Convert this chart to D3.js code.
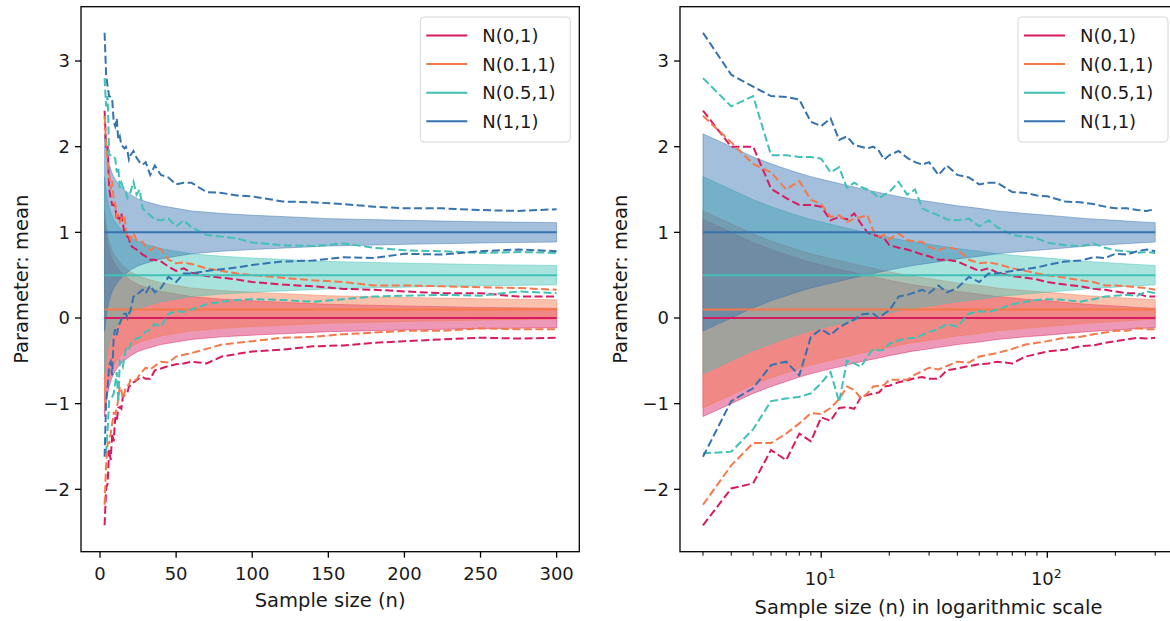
<!DOCTYPE html>
<html>
<head>
<meta charset="utf-8">
<script src="https://cdn.jsdelivr.net/npm/d3@7"></script>
<style>
  body { margin: 0; background: #fff; }
  svg { display: block; }
  text { font-family: "DejaVu Sans", sans-serif; fill: #1a1a1a; }
</style>
</head>
<body>
<svg id="chart" width="1170" height="621"></svg>
<script>
// sample sizes where the dashed bounds were read
const sampleSizes = [3,4,5,6,7,8,9,10,11,12,13,14,15,16,17,18,19,20,22,24,26,28,30,33,36,40,45,50,55,60,70,80,90,100,120,140,160,180,200,225,250,275,300];

const seriesNames = ["N(0,1)", "N(0.1,1)", "N(0.5,1)", "N(1,1)"];
const seriesMeans = [0, 0.1, 0.5, 1];
const seriesColors = ["#d81b60", "#f5784a", "#40c0b6", "#3572b0"];

// dashed bounds, one pair per distribution
const upperN0 = [2.42,2.00,2.00,1.51,1.40,1.32,1.32,1.30,1.14,1.18,1.15,1.22,1.10,1.00,0.97,0.95,0.93,0.85,0.82,0.80,0.77,0.74,0.72,0.68,0.68,0.66,0.60,0.55,0.58,0.53,0.49,0.47,0.45,0.42,0.39,0.37,0.34,0.33,0.31,0.29,0.29,0.25,0.25];
const lowerN0 = [-2.42,-1.99,-1.93,-1.54,-1.66,-1.35,-1.44,-1.16,-1.20,-1.05,-1.04,-1.06,-0.92,-0.90,-0.88,-0.87,-0.80,-0.79,-0.75,-0.73,-0.70,-0.69,-0.71,-0.71,-0.61,-0.59,-0.56,-0.54,-0.53,-0.51,-0.53,-0.45,-0.42,-0.39,-0.37,-0.33,-0.32,-0.29,-0.27,-0.25,-0.23,-0.24,-0.23];
const upperN01 = [2.36,2.05,1.80,1.70,1.50,1.60,1.38,1.33,1.18,1.20,1.12,1.16,1.18,1.20,1.02,0.95,0.97,0.92,0.99,0.91,0.89,0.89,0.83,0.79,0.83,0.80,0.68,0.64,0.65,0.63,0.58,0.55,0.52,0.50,0.47,0.44,0.42,0.38,0.38,0.37,0.36,0.35,0.33];
const lowerN01 = [-2.18,-1.72,-1.46,-1.46,-1.35,-1.23,-1.11,-1.12,-1.05,-0.95,-0.80,-0.84,-0.94,-0.88,-0.80,-0.79,-0.78,-0.72,-0.72,-0.72,-0.66,-0.62,-0.58,-0.60,-0.56,-0.51,-0.52,-0.45,-0.43,-0.41,-0.36,-0.31,-0.29,-0.27,-0.23,-0.22,-0.19,-0.17,-0.15,-0.15,-0.12,-0.13,-0.13];
const upperN05 = [2.80,2.47,2.59,1.90,1.90,1.88,1.88,1.86,1.70,1.76,1.52,1.58,1.53,1.50,1.46,1.40,1.44,1.47,1.59,1.44,1.50,1.28,1.24,1.20,1.15,1.14,1.16,1.07,1.14,1.06,0.97,0.95,0.93,0.88,0.85,0.84,0.87,0.82,0.79,0.78,0.76,0.77,0.76];
const lowerN05 = [-1.58,-1.56,-1.30,-0.97,-0.94,-0.92,-0.88,-0.76,-0.63,-0.98,-0.50,-0.53,-0.57,-0.45,-0.36,-0.38,-0.37,-0.30,-0.26,-0.24,-0.23,-0.20,-0.16,-0.13,-0.07,-0.10,0.05,0.08,0.07,0.10,0.16,0.19,0.21,0.22,0.21,0.19,0.22,0.25,0.26,0.27,0.26,0.31,0.29];
const upperN1 = [3.33,2.84,2.70,2.59,2.58,2.55,2.29,2.24,2.33,2.08,2.12,2.02,2.00,1.98,2.00,1.95,1.85,1.90,1.95,1.87,1.82,1.79,1.82,1.67,1.78,1.67,1.64,1.56,1.58,1.58,1.47,1.46,1.43,1.42,1.36,1.35,1.33,1.30,1.28,1.28,1.26,1.25,1.27];
const lowerN1 = [-1.62,-0.97,-0.82,-0.55,-0.51,-0.67,-0.22,-0.13,-0.20,-0.11,-0.06,-0.02,0.04,0.05,0.05,0.00,0.05,0.09,0.25,0.27,0.30,0.33,0.29,0.38,0.30,0.35,0.48,0.42,0.52,0.52,0.55,0.57,0.59,0.62,0.66,0.67,0.71,0.70,0.75,0.74,0.78,0.80,0.78];

const upperBounds = [upperN0, upperN01, upperN05, upperN1];
const lowerBounds = [lowerN0, lowerN01, lowerN05, lowerN1];

// shaded band half width around each mean
const bandSizes = [3,4,5,6,7,8,9,10,12,15,20,25,30,40,50,60,80,100,150,200,250,300];
const bandHalfWidth = [1.15,1.00,0.88,0.80,0.74,0.69,0.65,0.62,0.57,0.51,0.44,0.39,0.36,0.31,0.28,0.25,0.22,0.20,0.16,0.14,0.124,0.113];

const yTicks = [-2, -1, 0, 1, 2, 3];
const linearTicks = [0, 50, 100, 150, 200, 250, 300];
const logMajorTicks = [10, 100];
const logMinorTicks = [3,4,5,6,7,8,9,20,30,40,50,60,70,80,90,200,300];

const svg = d3.select("#chart");
const plotTop = 6.7, plotBottom = 551.7;
const y = d3.scaleLinear().domain([-2.728, 3.634]).range([plotBottom, plotTop]);

function drawPanel(left, right, xScale, isLog, xLabel) {
  const g = svg.append("g");

  // bands (below all lines, like matplotlib zorder)
  seriesMeans.forEach((m, i) => {
    const pts = bandSizes.map((n, k) => ({ n: n, lo: m - bandHalfWidth[k], hi: m + bandHalfWidth[k] }));
    g.append("path")
      .attr("d", d3.area().x(d => xScale(d.n)).y0(d => y(d.lo)).y1(d => y(d.hi))(pts))
      .attr("fill", seriesColors[i]).attr("fill-opacity", 0.45)
      .attr("stroke", seriesColors[i]).attr("stroke-opacity", 0.45).attr("stroke-width", 1);
  });

  const line = d3.line().x(d => xScale(d.n)).y(d => y(d.v));
  seriesMeans.forEach((m, i) => {
    g.append("path")
      .attr("d", line([{ n: 3, v: m }, { n: 300, v: m }]))
      .attr("fill", "none").attr("stroke", seriesColors[i]).attr("stroke-width", 2);
    [upperBounds[i], lowerBounds[i]].forEach(vals => {
      g.append("path")
        .attr("d", line(sampleSizes.map((n, k) => ({ n: n, v: vals[k] }))))
        .attr("fill", "none").attr("stroke", seriesColors[i])
        .attr("stroke-width", 2).attr("stroke-dasharray", "8,3.5");
    });
  });

  // frame
  g.append("rect").attr("x", left).attr("y", plotTop).attr("width", right - left).attr("height", plotBottom - plotTop)
    .attr("fill", "none").attr("stroke", "#000").attr("stroke-width", 1.3);

  // y axis
  yTicks.forEach(t => {
    g.append("line").attr("x1", left - 6).attr("x2", left).attr("y1", y(t)).attr("y2", y(t))
      .attr("stroke", "#000").attr("stroke-width", 1.3);
    g.append("text").attr("x", left - 11).attr("y", y(t)).attr("dy", "0.36em")
      .attr("text-anchor", "end").style("font-size", "18px")
      .text(t < 0 ? "\u2212" + Math.abs(t) : t);
  });

  // x axis
  if (!isLog) {
    linearTicks.forEach(t => {
      g.append("line").attr("x1", xScale(t)).attr("x2", xScale(t)).attr("y1", plotBottom).attr("y2", plotBottom + 6)
        .attr("stroke", "#000").attr("stroke-width", 1.3);
      g.append("text").attr("x", xScale(t)).attr("y", 580).attr("text-anchor", "middle")
        .style("font-size", "18px").text(t);
    });
  } else {
    logMinorTicks.forEach(t => {
      g.append("line").attr("x1", xScale(t)).attr("x2", xScale(t)).attr("y1", plotBottom).attr("y2", plotBottom + 4)
        .attr("stroke", "#000").attr("stroke-width", 1);
    });
    logMajorTicks.forEach(t => {
      g.append("line").attr("x1", xScale(t)).attr("x2", xScale(t)).attr("y1", plotBottom).attr("y2", plotBottom + 6)
        .attr("stroke", "#000").attr("stroke-width", 1.3);
      const lbl = g.append("text").attr("x", xScale(t) - 1).attr("y", 585).attr("text-anchor", "middle")
        .style("font-size", "18px");
      lbl.append("tspan").text("10");
      lbl.append("tspan").attr("dy", -7).style("font-size", "12.5px").text(Math.round(Math.log10(t)));
    });
  }

  g.append("text").attr("x", (left + right) / 2).attr("y", isLog ? 614 : 607).attr("text-anchor", "middle")
    .style("font-size", "19.5px").text(xLabel);
  g.append("text").attr("transform", `translate(${left - 53},${(plotTop + plotBottom) / 2}) rotate(-90)`)
    .attr("text-anchor", "middle").style("font-size", "19.5px").text("Parameter: mean");

  // legend
  const lx = right - 159, ly = 17;
  const leg = g.append("g").attr("transform", `translate(${lx},${ly})`);
  leg.append("rect").attr("width", 150).attr("height", 125).attr("rx", 4)
    .attr("fill", "#fff").attr("fill-opacity", 0.8).attr("stroke", "#d6d6d6").attr("stroke-width", 1);
  seriesNames.forEach((name, i) => {
    const yy = 18.5 + i * 28.6;
    leg.append("line").attr("x1", 6).attr("x2", 47).attr("y1", yy).attr("y2", yy)
      .attr("stroke", seriesColors[i]).attr("stroke-width", 2);
    leg.append("text").attr("x", 62).attr("y", yy).attr("dy", "0.36em")
      .style("font-size", "18px").text(name);
  });
}

const xLin = d3.scaleLinear().domain([-12.5, 314.9]).range([81, 579.3]);
drawPanel(81, 579.3, xLin, false, "Sample size (n)");

const xLog = d3.scaleLog().domain([2.374, 374.6]).range([680, 1177]);
drawPanel(680, 1177, xLog, true, "Sample size (n) in logarithmic scale");
</script>
</body>
</html>
